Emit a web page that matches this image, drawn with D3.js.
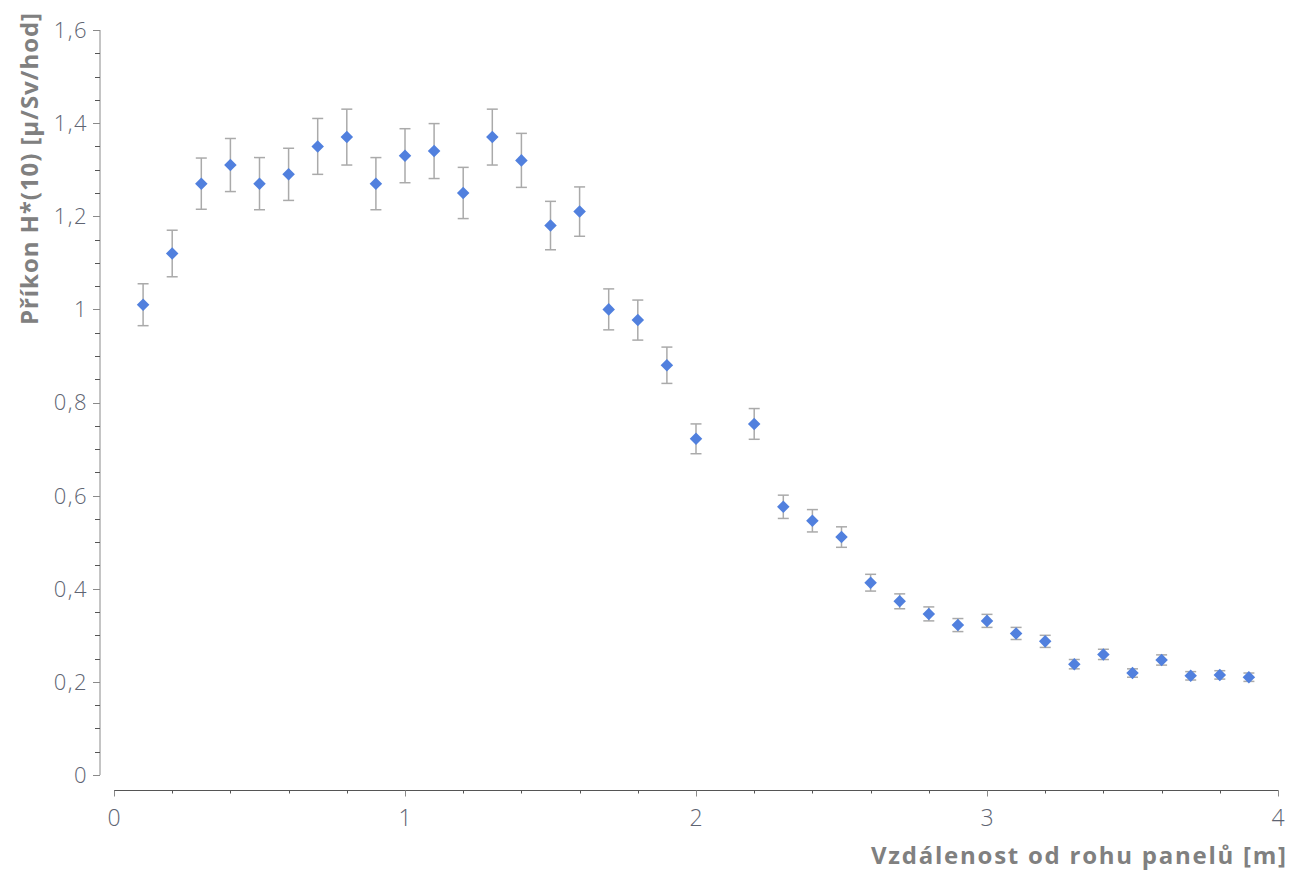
<!DOCTYPE html>
<html>
<head>
<meta charset="utf-8">
<script src="https://cdn.jsdelivr.net/npm/d3@7"></script>
<style>
  body { margin: 0; background: #fff; }
  svg { display: block; }
</style>
</head>
<body>
<div class="graph"></div>
<script>
// distance from panel corner [m]
const distances = [0.1, 0.2, 0.3, 0.4, 0.5, 0.6, 0.7, 0.8, 0.9, 1.0,
  1.1, 1.2, 1.3, 1.4, 1.5, 1.6, 1.7, 1.8, 1.9, 2.0,
  2.2, 2.3, 2.4, 2.5, 2.6, 2.7, 2.8, 2.9, 3.0,
  3.1, 3.2, 3.3, 3.4, 3.5, 3.6, 3.7, 3.8, 3.9];
// dose rate H*(10)
const doseRates = [1.01, 1.12, 1.27, 1.31, 1.27, 1.29, 1.35, 1.37, 1.27, 1.33,
  1.34, 1.25, 1.37, 1.32, 1.18, 1.21, 1.00, 0.977, 0.88, 0.722,
  0.754, 0.576, 0.546, 0.511, 0.413, 0.373, 0.346, 0.322, 0.331,
  0.304, 0.287, 0.238, 0.259, 0.219, 0.247, 0.213, 0.215, 0.210];
// +/- uncertainty
const errors = [0.045, 0.05, 0.055, 0.057, 0.056, 0.056, 0.06, 0.06, 0.056, 0.058,
  0.059, 0.055, 0.06, 0.058, 0.052, 0.053, 0.044, 0.043, 0.039, 0.032,
  0.033, 0.025, 0.024, 0.022, 0.018, 0.016, 0.015, 0.014, 0.014,
  0.013, 0.013, 0.010, 0.011, 0.009, 0.011, 0.009, 0.009, 0.009];

const xTicks = [0, 1, 2, 3, 4];
const yTicks = [0, 0.2, 0.4, 0.6, 0.8, 1, 1.2, 1.4, 1.6];

const w = 1289, h = 872;
const fmt = d => String(d).replace(".", ",");

const svg = d3.select(".graph").append("svg")
  .attr("width", w)
  .attr("height", h);

const x = d3.scaleLinear().domain([0, 4]).range([114, 1278]);
const y = d3.scaleLinear().domain([0, 1.6]).range([775, 30]);

const labelFont = "'Open Sans', sans-serif";
const labelColor = "#5e6472";
const axisColor = "#8a8a8a";

// y axis
const yAxis = svg.append("g").attr("transform", "translate(100,0)");
yAxis.append("line")
  .attr("y1", y(0)).attr("y2", y(1.6))
  .attr("stroke", axisColor);
yAxis.selectAll(".minor")
  .data(d3.range(0, 1.6001, 0.05))
  .enter().append("line")
  .attr("x1", -5).attr("x2", 0)
  .attr("y1", d => Math.round(y(d)) + 0.5).attr("y2", d => Math.round(y(d)) + 0.5)
  .attr("stroke", "#555");
yAxis.selectAll(".major")
  .data(yTicks)
  .enter().append("line")
  .attr("x1", -7).attr("x2", 0)
  .attr("y1", d => Math.round(y(d)) + 0.5).attr("y2", d => Math.round(y(d)) + 0.5)
  .attr("stroke", axisColor);
yAxis.selectAll("text")
  .data(yTicks)
  .enter().append("text")
  .attr("x", -12)
  .attr("y", d => y(d))
  .attr("dy", "0.36em")
  .attr("text-anchor", "end")
  .attr("font-family", labelFont)
  .attr("font-weight", 300)
  .attr("font-size", "22px")
  .attr("letter-spacing", "1.5px")
  .attr("fill", labelColor)
  .text(fmt);

// x axis
const xAxis = svg.append("g").attr("transform", "translate(0,790.5)");
xAxis.append("line")
  .attr("x1", x(0)).attr("x2", x(4))
  .attr("stroke", "#555");
xAxis.selectAll(".minor")
  .data(d3.range(0, 4.001, 0.2))
  .enter().append("line")
  .attr("x1", d => Math.round(x(d)) + 0.5).attr("x2", d => Math.round(x(d)) + 0.5)
  .attr("y1", 0).attr("y2", 3)
  .attr("stroke", "#555");
xAxis.selectAll(".major")
  .data(xTicks)
  .enter().append("line")
  .attr("x1", d => Math.round(x(d)) + 0.5).attr("x2", d => Math.round(x(d)) + 0.5)
  .attr("y1", 0).attr("y2", 6)
  .attr("stroke", axisColor);
xAxis.selectAll("text")
  .data(xTicks)
  .enter().append("text")
  .attr("x", d => x(d))
  .attr("y", 35)
  .attr("text-anchor", "middle")
  .attr("font-family", labelFont)
  .attr("font-weight", 300)
  .attr("font-size", "23px")
  .attr("fill", labelColor)
  .text(fmt);

// axis titles
svg.append("text")
  .attr("transform", "translate(38,13) rotate(-90)")
  .attr("text-anchor", "end")
  .attr("font-family", labelFont)
  .attr("font-weight", 700)
  .attr("font-size", "24px")
  .attr("textLength", 312)
  .attr("lengthAdjust", "spacing")
  .attr("fill", "#808080")
  .text("Příkon H*(10) [μ/Sv/hod]");

svg.append("text")
  .attr("x", 1286)
  .attr("y", 864)
  .attr("text-anchor", "end")
  .attr("font-family", labelFont)
  .attr("font-weight", 700)
  .attr("font-size", "24px")
  .attr("textLength", 415)
  .attr("lengthAdjust", "spacing")
  .attr("fill", "#808080")
  .text("Vzdálenost od rohu panelů [m]");

// error bars + diamonds
const points = distances.map((d, i) => ({x: d, y: doseRates[i], e: errors[i]}));

const bars = svg.append("g").selectAll("g")
  .data(points)
  .enter().append("g")
  .attr("stroke", "#aaaaaa")
  .attr("stroke-width", 1.5);
bars.append("line")
  .attr("x1", d => x(d.x)).attr("x2", d => x(d.x))
  .attr("y1", d => y(d.y + d.e)).attr("y2", d => y(d.y - d.e));
bars.append("line")
  .attr("x1", d => x(d.x) - 5.5).attr("x2", d => x(d.x) + 5.5)
  .attr("y1", d => y(d.y + d.e)).attr("y2", d => y(d.y + d.e));
bars.append("line")
  .attr("x1", d => x(d.x) - 5.5).attr("x2", d => x(d.x) + 5.5)
  .attr("y1", d => y(d.y - d.e)).attr("y2", d => y(d.y - d.e));

svg.append("g").selectAll("path")
  .data(points)
  .enter().append("path")
  .attr("d", d3.symbol().type(d3.symbolDiamond2).size(100))
  .attr("transform", d => `translate(${x(d.x)},${y(d.y)})`)
  .attr("fill", "#5180de");
</script>
</body>
</html>
